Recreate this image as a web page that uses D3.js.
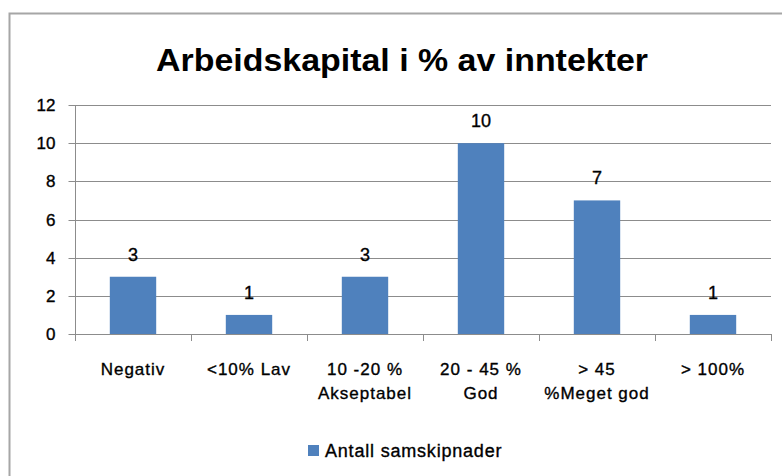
<!DOCTYPE html>
<html><head><meta charset="utf-8">
<script src="https://cdn.jsdelivr.net/npm/d3@7"></script>
<style>body{margin:0;background:#fff;} text{font-family:"Liberation Sans",Arial,sans-serif;}</style>
</head><body>
<svg id="c" width="782" height="476"></svg>
<script>
const categories = [["Negativ"], ["<10% Lav"], ["10 -20 %", "Akseptabel"], ["20 - 45 %", "God"], ["> 45", "%Meget god"], ["> 100%"]];
const values = [3, 1, 3, 10, 7, 1];
const yTicks = [0, 2, 4, 6, 8, 10, 12];
const seriesName = "Antall samskipnader";
const title = "Arbeidskapital i % av inntekter";

(function () {
const svg = d3.select("#c");
const pL = 75, pR = 771, pT = 105, pB = 334;
const color = "#4F81BD";
const heavy = sel => sel.attr("stroke", "#000").attr("stroke-width", 0.35);

// outer frame
svg.append("rect").attr("x", 9.5).attr("y", 13.5).attr("width", 800).attr("height", 500)
  .attr("fill", "#fff").attr("stroke", "#a6a6a6").attr("stroke-width", 2);

svg.append("text").attr("x", 402).attr("y", 71).attr("text-anchor", "middle")
  .attr("font-size", 31).attr("font-weight", "bold").attr("fill", "#000")
  .attr("textLength", 492).attr("lengthAdjust", "spacingAndGlyphs").text(title);

const idx = categories.map((d, i) => i);
const x = d3.scaleBand().domain(idx).range([pL, pR]).paddingInner(0).paddingOuter(0);
const y = d3.scaleLinear().domain([0, 12]).range([pB, pT]);

// gridlines
svg.append("g").selectAll("line").data(yTicks.filter(d => d > 0)).join("line")
  .attr("x1", pL).attr("x2", pR).attr("y1", d => Math.round(y(d)) + 0.5).attr("y2", d => Math.round(y(d)) + 0.5)
  .attr("stroke", "#8c8c8c").attr("stroke-width", 1);

// y axis
const yAxis = d3.axisLeft(y).tickValues(yTicks).tickSize(7).tickPadding(13).tickFormat(d3.format("d"));
const gy = svg.append("g").attr("transform", `translate(${pL + 0.5},0)`).call(yAxis);
gy.select(".domain").attr("stroke", "#8c8c8c").attr("d", `M0,${pT}V${pB}`);
gy.selectAll(".tick line").attr("stroke", "#8c8c8c");
gy.selectAll(".tick").attr("transform", d => `translate(0,${Math.round(y(d)) + 0.5})`);
gy.selectAll("text").attr("font-size", 17).attr("fill", "#000").attr("font-family", "Liberation Sans, Arial, sans-serif").call(heavy);

// bars
const bw = x.bandwidth() * 0.4;
svg.append("g").selectAll("rect").data(values).join("rect")
  .attr("x", (d, i) => x(i) + (x.bandwidth() - bw) / 2)
  .attr("y", d => y(d)).attr("width", bw).attr("height", d => pB - y(d))
  .attr("fill", color);

// x axis
const xAxis = d3.axisBottom(x).tickSize(0).tickFormat("");
const gx = svg.append("g").attr("transform", `translate(0,${pB + 0.5})`).call(xAxis);
gx.select(".domain").attr("stroke", "#8c8c8c").attr("d", `M${pL},0H${pR}`);
const tickPos = idx.map(i => x(i)).concat([pR]);
svg.append("g").selectAll("line").data(tickPos).join("line")
  .attr("x1", d => Math.round(d) + 0.5).attr("x2", d => Math.round(d) + 0.5)
  .attr("y1", pB).attr("y2", pB + 7).attr("stroke", "#8c8c8c");

// category labels
const cl = svg.append("g").selectAll("text").data(categories).join("text")
  .attr("text-anchor", "middle").attr("font-size", 17).attr("letter-spacing", 1).attr("fill", "#000").call(heavy);
cl.each(function(lines, i) {
  d3.select(this).selectAll("tspan").data(lines).join("tspan")
    .attr("x", x(i) + x.bandwidth() / 2).attr("y", (d, j) => 375 + j * 24).text(d => d);
});

// data labels
svg.append("g").selectAll("text").data(values).join("text")
  .attr("x", (d, i) => x(i) + x.bandwidth() / 2).attr("y", d => y(d) - 16)
  .attr("text-anchor", "middle").attr("font-size", 18).attr("fill", "#000").call(heavy).text(d => d);

// legend
svg.append("rect").attr("x", 308).attr("y", 445).attr("width", 11).attr("height", 11).attr("fill", color);
svg.append("text").attr("x", 325).attr("y", 457).attr("font-size", 18).attr("letter-spacing", 0.8)
  .attr("fill", "#000").call(heavy).text(seriesName);
})();
</script>
</body></html>
